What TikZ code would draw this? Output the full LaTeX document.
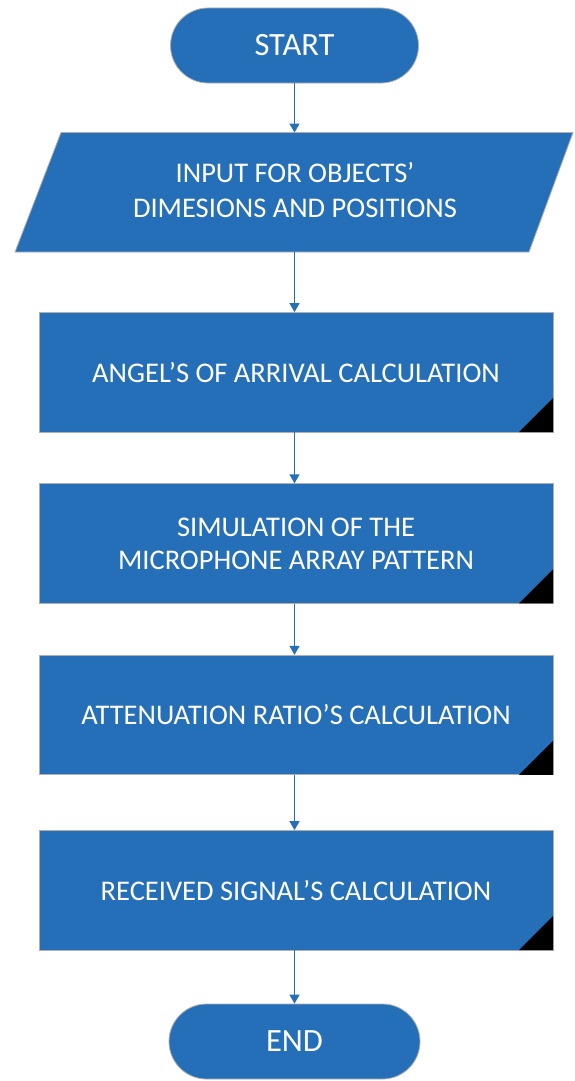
\documentclass[tikz,border=0pt]{standalone}
\usepackage{fontspec}
\setmainfont{Carlito}
\usetikzlibrary{arrows.meta}
\definecolor{boxblue}{RGB}{37,111,185}
\definecolor{edgegray}{RGB}{175,175,175}
\tikzset{
  x=1pt, y=-1pt,
  boxfill/.style={fill=boxblue, draw=edgegray, line width=0.8pt},
  terminal/.style={boxfill, rectangle, rounded corners=37.5pt, minimum height=75pt, text=white, font=\fontsize{32.5}{38}\selectfont, inner sep=0pt},
  procbox/.style={boxfill, rectangle, minimum width=514pt, minimum height=119.5pt, text=white, align=center, font=\fontsize{28.5}{33}\selectfont, inner sep=0pt},
  textonly/.style={rectangle, minimum width=470pt, minimum height=119.5pt, text=white, align=center, font=\fontsize{28.5}{35}\selectfont, inner sep=0pt},
  flow/.style={draw=boxblue, line width=1.4pt, -{Triangle[length=9pt,width=10pt]}},
  corner/.style={fill=black, draw=none}
}
\begin{document}
\begin{tikzpicture}
\useasboundingbox (0,0) rectangle (574,1081);
% START
\node[terminal, minimum width=248pt] (start) at (294.5,45.5) {START};
% Input parallelogram
\coordinate (pA) at (61,132.5);
\coordinate (pB) at (573,132.5);
\coordinate (pC) at (529,252);
\coordinate (pD) at (15,252);
\draw[boxfill] (pA) -- (pB) -- (pC) -- (pD) -- cycle;
\node[textonly] (input) at (295,190.5) {INPUT FOR OBJECTS’\\DIMESIONS AND POSITIONS};
% Process boxes
\node[procbox] (r1) at (296,372.25) {ANGEL’S OF ARRIVAL CALCULATION};
\node[procbox] (r2) at (296,543.5) {SIMULATION OF THE\\MICROPHONE ARRAY PATTERN};
\node[procbox] (r3) at (296,715) {ATTENUATION RATIO’S CALCULATION};
\node[procbox] (r4) at (296,890.25) {RECEIVED SIGNAL’S CALCULATION};
% END
\node[terminal, minimum width=251pt] (end) at (294.5,1041.5) {END};
% Corner triangles
\foreach \b in {r1,r2,r3,r4}{
  \fill[corner] ([shift={(-0.4,-0.4)}]\b.south east) -- ++(-34,0) -- ++(34,-34) -- cycle;
}
% Connectors
\draw[flow] (start.south) -- (start.south |- pA);
\draw[flow] (start.south |- pD) -- (start.south |- r1.north);
\draw[flow] (r1.south -| start.south) -- (start.south |- r2.north);
\draw[flow] (r2.south -| start.south) -- (start.south |- r3.north);
\draw[flow] (r3.south -| start.south) -- (start.south |- r4.north);
\draw[flow] (r4.south -| start.south) -- (end.north);
\end{tikzpicture}
\end{document}
